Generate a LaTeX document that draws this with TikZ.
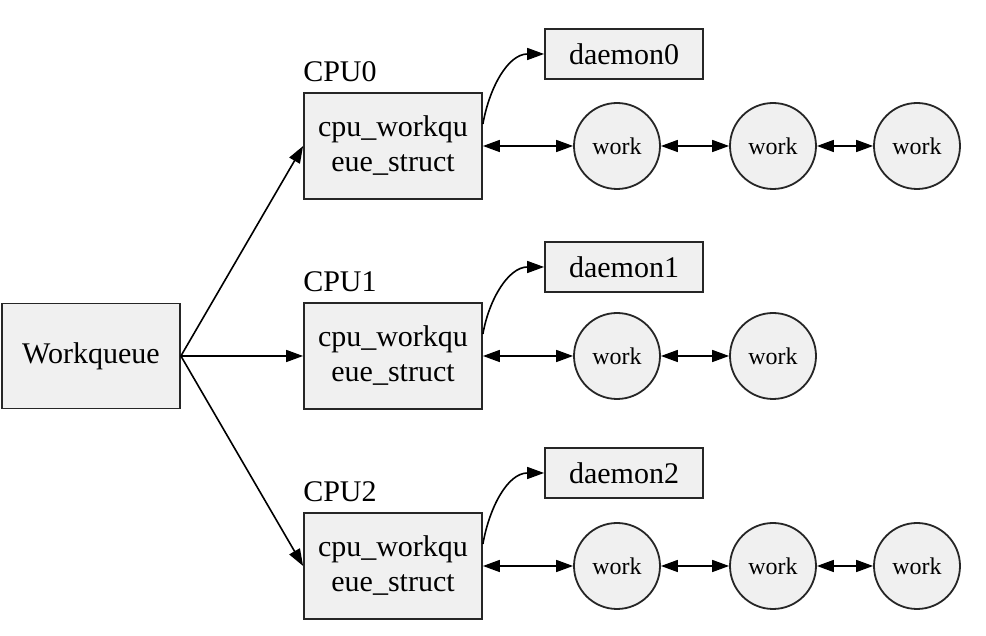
\documentclass[tikz,border=0pt]{standalone}
\usepackage{fontspec}
\setmainfont{Liberation Serif}
\usetikzlibrary{arrows.meta}
\begin{document}
\begin{tikzpicture}[x=1pt,y=1pt,
  box/.style={draw=black!85, line width=1.8pt, fill=black!6, inner sep=0pt, align=center,
     font=\fontsize{30}{35}\selectfont},
  cpubox/.style={box, minimum width=178pt, minimum height=106pt},
  daemonbox/.style={box, minimum width=158pt, minimum height=50pt},
  workc/.style={draw=black!85, line width=1.8pt, fill=black!6, circle, minimum size=86pt, inner sep=0pt,
     font=\fontsize{24}{28}\selectfont},
  lbl/.style={font=\fontsize{30}{35}\selectfont, inner sep=0pt, anchor=south west},
  arr/.style={line width=1.6pt, -{Triangle[length=17pt,width=12pt]}},
  darr/.style={line width=1.6pt, {Triangle[length=17pt,width=12pt]}-{Triangle[length=17pt,width=12pt]}}
]
\useasboundingbox (0,0) rectangle (986,636);
\node[box, minimum width=178pt, minimum height=105pt] (wq) at (91,280) {Workqueue};

\node[cpubox] (c0) at (393,490) {cpu\_workqu\\eue\_struct};
\node[cpubox] (c1) at (393,280) {cpu\_workqu\\eue\_struct};
\node[cpubox] (c2) at (393,70) {cpu\_workqu\\eue\_struct};

\node[lbl] (l0) at ([yshift=10pt]c0.north west) {CPU0};
\node[lbl] (l1) at ([yshift=10pt]c1.north west) {CPU1};
\node[lbl] (l2) at ([yshift=10pt]c2.north west) {CPU2};

\node[daemonbox] (d0) at (624,582) {daemon0};
\node[daemonbox] (d1) at (624,369) {daemon1};
\node[daemonbox] (d2) at (624,163) {daemon2};

\node[workc] (w00) at (617,490) {work};
\node[workc] (w01) at (773,490) {work};
\node[workc] (w02) at (917,490) {work};
\node[workc] (w10) at (617,280) {work};
\node[workc] (w11) at (773,280) {work};
\node[workc] (w20) at (617,70) {work};
\node[workc] (w21) at (773,70) {work};
\node[workc] (w22) at (917,70) {work};

\draw[arr] (wq.east) -- (c0.west);
\draw[arr] (wq.east) -- (c1.west);
\draw[arr] (wq.east) -- (c2.west);

\draw[arr] ([yshift=22pt]c0.east) to[out=80,in=180] (d0.west);
\draw[arr] ([yshift=22pt]c1.east) to[out=80,in=180] (d1.west);
\draw[arr] ([yshift=22pt]c2.east) to[out=80,in=180] (d2.west);

\draw[darr] (c0.east) -- (w00.west);
\draw[darr] (w00.east) -- (w01.west);
\draw[darr] (w01.east) -- (w02.west);
\draw[darr] (c1.east) -- (w10.west);
\draw[darr] (w10.east) -- (w11.west);
\draw[darr] (c2.east) -- (w20.west);
\draw[darr] (w20.east) -- (w21.west);
\draw[darr] (w21.east) -- (w22.west);
\end{tikzpicture}
\end{document}
